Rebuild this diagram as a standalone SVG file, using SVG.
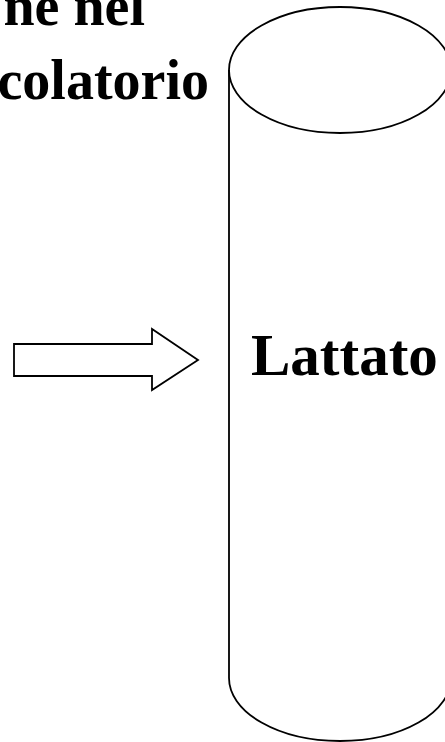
<svg xmlns="http://www.w3.org/2000/svg" width="445" height="742" viewBox="0 0 445 742">
<style>
.ln{fill:none;stroke:#000;stroke-width:1.8}
.t{font-family:"Liberation Serif","Times New Roman",serif;font-weight:bold;fill:#000}
</style>
<rect width="445" height="742" fill="#fff"/>
<g id="title">
<text class="t" x="145" y="25" font-size="56" text-anchor="end">ne nel</text>
<text class="t" x="209" y="99" font-size="56" text-anchor="end">colatorio</text>
</g>
<g id="cylinder">
<path class="ln" d="M229,70 L229,678 A111,63 0 0 0 451,678 L451,70"/>
<ellipse class="ln" cx="340" cy="70" rx="111" ry="63"/>
<text class="t" x="251" y="375" font-size="59">Lattato</text>
</g>
<g id="connectors">
<path class="ln" d="M14,344 L152,344 L152,329 L198,360 L152,390 L152,376 L14,376 Z"/>
</g>
</svg>
